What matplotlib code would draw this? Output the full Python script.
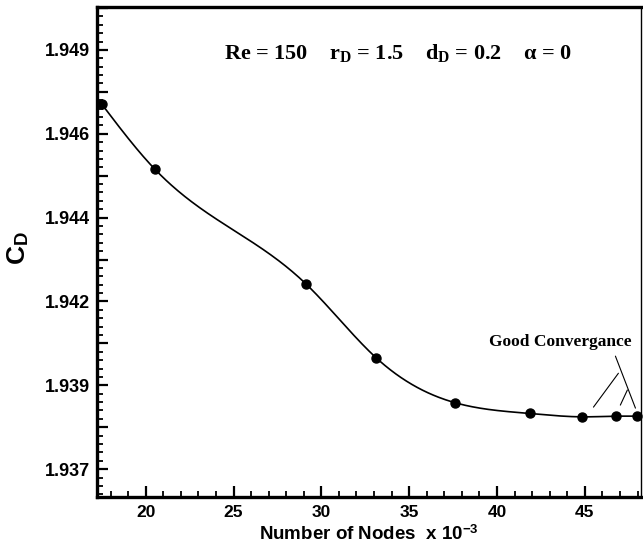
import numpy as np
import matplotlib
matplotlib.use('Agg')
import matplotlib.pyplot as plt
from matplotlib.ticker import FixedLocator, MultipleLocator, FuncFormatter

# data
nodes = [17.49, 20.53, 29.13, 33.12, 37.62, 41.86, 44.84, 46.80, 47.99]   # x 10^-3
cd = [1.94739, 1.94544, 1.94202, 1.93982, 1.93848, 1.93816, 1.93806, 1.93808, 1.93808]

# labelled y ticks (the ticks halfway between are left without a label)
ytick_vals = [1.9365, 1.939, 1.9415, 1.944, 1.9465, 1.949]
ytick_text = ['1.937', '1.939', '1.942', '1.944', '1.946', '1.949']

plt.rcParams['mathtext.fontset'] = 'custom'
plt.rcParams['mathtext.rm'] = 'Liberation Serif:bold'
plt.rcParams['mathtext.it'] = 'Liberation Serif:bold'
plt.rcParams['mathtext.bf'] = 'Liberation Serif:bold'
plt.rcParams['mathtext.sf'] = 'Liberation Sans:bold'


def natural_spline(x, y, xs):
    # smooth curve through the points, like the original plotting program
    x = np.asarray(x, float)
    y = np.asarray(y, float)
    n = len(x)
    h = np.diff(x)
    A = np.zeros((n, n))
    rhs = np.zeros(n)
    A[0, 0] = A[-1, -1] = 1
    for i in range(1, n - 1):
        A[i, i - 1] = h[i - 1]
        A[i, i] = 2 * (h[i - 1] + h[i])
        A[i, i + 1] = h[i]
        rhs[i] = 6 * ((y[i + 1] - y[i]) / h[i] - (y[i] - y[i - 1]) / h[i - 1])
    M = np.linalg.solve(A, rhs)
    k = np.clip(np.searchsorted(x, xs) - 1, 0, n - 2)
    t0 = x[k + 1] - xs
    t1 = xs - x[k]
    hk = h[k]
    return (M[k] * t0**3 / (6 * hk) + M[k + 1] * t1**3 / (6 * hk)
            + (y[k] / hk - M[k] * hk / 6) * t0
            + (y[k + 1] / hk - M[k + 1] * hk / 6) * t1)


fig = plt.figure(figsize=(6.43, 5.44), dpi=100)
ax = fig.add_axes([0.1509, 0.0864, 0.8461, 0.9007])

xs = np.linspace(nodes[0], nodes[-1], 400)
ax.plot(xs, natural_spline(nodes, cd, xs), color='black', lw=1.2, zorder=2)
ax.plot(nodes, cd, 'o', color='black', ms=6.5, zorder=3, clip_on=False)

ax.set_xlim(17.23, 48.2)
ax.set_ylim(1.93567, 1.95028)

# axis ticks
ax.xaxis.set_major_locator(MultipleLocator(5))
ax.xaxis.set_minor_locator(MultipleLocator(1))
step = ytick_vals[1] - ytick_vals[0]
ymaj = np.arange(ytick_vals[0] - step / 2, ytick_vals[-1] + step, step / 2)
ymin = np.arange(ytick_vals[0] - step / 2, ytick_vals[-1] + step, step / 10)
ax.yaxis.set_major_locator(FixedLocator(ymaj))
ax.yaxis.set_minor_locator(FixedLocator(ymin))


def ylab(v, pos):
    for tv, tt in zip(ytick_vals, ytick_text):
        if abs(v - tv) < 1e-6:
            return tt
    return ''


ax.yaxis.set_major_formatter(FuncFormatter(ylab))
ax.xaxis.set_major_formatter(FuncFormatter(lambda v, p: '%d' % v))

ax.tick_params(which='both', direction='in', top=False, right=False, width=1.6,
               colors='black')
ax.tick_params(axis='y', labelsize=13, pad=5)
ax.tick_params(axis='x', labelsize=12.5, pad=6)
ax.tick_params(which='major', length=8)
ax.tick_params(which='minor', length=4, width=1.3)
for lab in ax.get_xticklabels() + ax.get_yticklabels():
    lab.set_fontfamily('Liberation Sans')
    lab.set_fontweight('bold')

for side in ['left', 'bottom', 'top']:
    ax.spines[side].set_linewidth(2.4)
ax.spines['right'].set_linewidth(1.0)

ax.set_xlabel(r'Number of Nodes  x 10$^{\mathsf{-3}}$', fontsize=13.5,
              fontfamily='Liberation Sans', fontweight='bold', labelpad=3)
fig.text(18 / 643, 1 - 248 / 544, r'C$_{\mathsf{D}}$', fontsize=19,
         fontfamily='Liberation Sans', fontweight='bold', rotation=90,
         ha='center', va='center')

ax.text(0.553, 0.906, 'Re = 150    r$_{\\mathrm{D}}$ = 1.5    d$_{\\mathrm{D}}$ = 0.2    \u03b1 = 0',
        transform=ax.transAxes, ha='center', va='center', fontsize=16,
        fontfamily='Liberation Serif', fontweight='bold')

ax.text(0.851, 0.316, 'Good Convergance', transform=ax.transAxes,
        ha='center', va='center', fontsize=12.5,
        fontfamily='Liberation Serif', fontweight='bold')

# leader lines of the annotation
ax.annotate('', xy=(47.88, 1.93832), xytext=(46.74, 1.93987),
            arrowprops=dict(arrowstyle='-', lw=0.8, color='black', shrinkA=0, shrinkB=0))
ax.annotate('', xy=(45.49, 1.93835), xytext=(46.91, 1.93936),
            arrowprops=dict(arrowstyle='-', lw=0.8, color='black', shrinkA=0, shrinkB=0))
ax.annotate('', xy=(47.02, 1.93841), xytext=(47.42, 1.93886),
            arrowprops=dict(arrowstyle='-', lw=0.8, color='black', shrinkA=0, shrinkB=0))

fig.savefig('out.png', dpi=100)
